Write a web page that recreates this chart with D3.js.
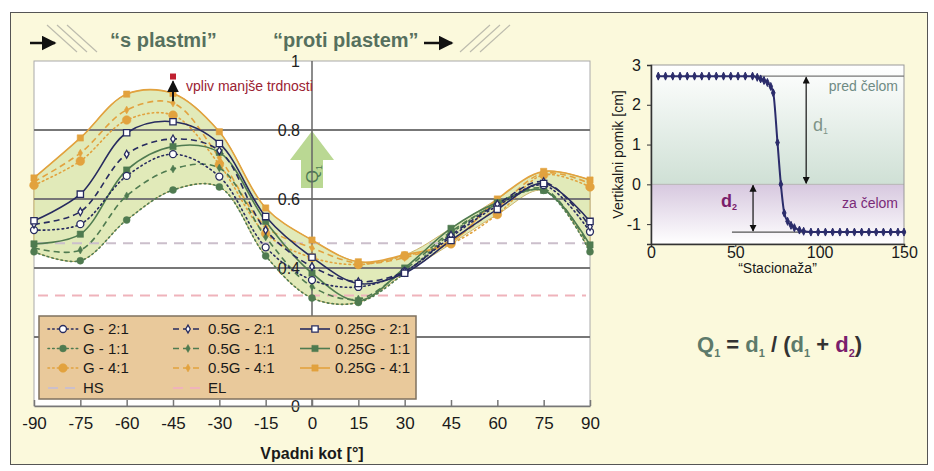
<!DOCTYPE html>
<html>
<head>
<meta charset="utf-8">
<script src="https://cdn.jsdelivr.net/npm/d3@7/dist/d3.min.js"></script>
<style>
  body { margin: 0; background: #fff; }
  svg { display: block; font-family: Arial, "Liberation Sans", sans-serif; }
</style>
</head>
<body>
<script>
'use strict';

// ---- data: left chart (Q1 vs dip angle) ----
var angles = [-90, -75, -60, -45, -30, -15, 0, 15, 30, 45, 60, 75, 90];
var seriesNames = ['G - 2:1', '0.5G - 2:1', '0.25G - 2:1',
                   'G - 1:1', '0.5G - 1:1', '0.25G - 1:1',
                   'G - 4:1', '0.5G - 4:1', '0.25G - 4:1'];
var valsG21   = [0.51, 0.527, 0.667, 0.73, 0.665, 0.46, 0.365, 0.345, 0.39, 0.49, 0.58, 0.64, 0.505];
var vals05G21 = [0.527, 0.563, 0.73, 0.774, 0.74, 0.51, 0.404, 0.36, 0.39, 0.495, 0.585, 0.65, 0.52];
var vals25G21 = [0.537, 0.614, 0.792, 0.824, 0.761, 0.549, 0.431, 0.355, 0.385, 0.48, 0.57, 0.645, 0.535];
var valsG11   = [0.447, 0.421, 0.539, 0.626, 0.635, 0.435, 0.313, 0.30, 0.385, 0.50, 0.585, 0.625, 0.447];
var vals05G11 = [0.458, 0.452, 0.609, 0.687, 0.69, 0.49, 0.346, 0.31, 0.395, 0.505, 0.585, 0.63, 0.458];
var vals25G11 = [0.47, 0.498, 0.684, 0.752, 0.735, 0.535, 0.385, 0.305, 0.40, 0.515, 0.59, 0.625, 0.467];
var valsG41   = [0.64, 0.71, 0.829, 0.843, 0.70, 0.50, 0.43, 0.41, 0.435, 0.47, 0.555, 0.67, 0.635];
var vals05G41 = [0.65, 0.733, 0.858, 0.878, 0.72, 0.52, 0.458, 0.414, 0.43, 0.48, 0.575, 0.675, 0.645];
var vals25G41 = [0.661, 0.777, 0.904, 0.906, 0.795, 0.574, 0.481, 0.418, 0.438, 0.475, 0.60, 0.68, 0.655];
var seriesValues = [valsG21, vals05G21, vals25G21, valsG11, vals05G11, vals25G11, valsG41, vals05G41, vals25G41];
var hsLevel = 0.472;
var elLevel = 0.32;
var yTicks = [0, 0.2, 0.4, 0.6, 0.8, 1];
var redAngle = -45, redQ = 0.955;

// ---- data: right chart (vertical displacement) ----
var statX = [4.3, 8.6, 12.9, 17.2, 21.5, 25.8, 30.1, 34.4, 38.7, 43, 47.3, 51.6, 55.9, 60.2,
             63, 65, 67, 69, 71, 72.5, 75, 77, 79, 81, 83, 85, 88, 90.5,
             94.8, 99.1, 103.4, 107.7, 112, 116.3, 120.6, 124.9, 129.2, 133.5, 137.8, 142.1, 146.4, 150];
var statY = [2.72, 2.72, 2.72, 2.72, 2.72, 2.72, 2.72, 2.72, 2.72, 2.72, 2.72, 2.72, 2.72, 2.72,
             2.69, 2.65, 2.61, 2.56, 2.46, 2.3, 1.05, 0, -0.72, -0.93, -1.03, -1.09, -1.15, -1.18,
             -1.2, -1.2, -1.2, -1.2, -1.2, -1.2, -1.2, -1.2, -1.2, -1.2, -1.2, -1.2, -1.2, -1.2];
var d1Top = 2.72, d2Bottom = -1.2;
var rTicksX = [0, 50, 100, 150];
var rTicksY = [-1, 0, 1, 2, 3];

var W = 934, H = 471;
var svg = d3.select('body').append('svg').attr('width', W).attr('height', H);
var plain = function (d) { return String(d); };

var defs = svg.append('defs');
defs.append('marker').attr('id', 'ah').attr('viewBox', '0 0 10 10')
  .attr('refX', 9).attr('refY', 5).attr('markerWidth', 6).attr('markerHeight', 6)
  .attr('orient', 'auto-start-reverse')
  .append('path').attr('d', 'M0,0L10,5L0,10z').attr('fill', '#111');

// outer frame
svg.append('rect').attr('x', 10.5).attr('y', 12.5).attr('width', 917).attr('height', 452)
  .attr('fill', '#fbf9dc').attr('stroke', '#555');

// ---- header ----
var hdr = svg.append('g');
hdr.append('line').attr('x1', 30).attr('y1', 43).attr('x2', 55).attr('y2', 43)
  .attr('stroke', '#111').attr('stroke-width', 2.5).attr('marker-end', 'url(#ah)');
[0, 10, 20].forEach(function (o) {
  hdr.append('line').attr('x1', 47 + o).attr('y1', 25).attr('x2', 77 + o).attr('y2', 52)
    .attr('stroke', '#bdbcae').attr('stroke-width', 1.2);
  hdr.append('line').attr('x1', 460 + o).attr('y1', 52).attr('x2', 490 + o).attr('y2', 25)
    .attr('stroke', '#bdbcae').attr('stroke-width', 1.2);
});
hdr.append('text').attr('x', 110).attr('y', 47).text('\u201cs plastmi\u201d')
  .attr('font-size', 20).attr('font-weight', 'bold').attr('fill', '#56705e');
hdr.append('text').attr('x', 273).attr('y', 47).text('\u201cproti plastem\u201d')
  .attr('font-size', 20).attr('font-weight', 'bold').attr('fill', '#56705e');
hdr.append('line').attr('x1', 424).attr('y1', 43).attr('x2', 452).attr('y2', 43)
  .attr('stroke', '#111').attr('stroke-width', 2.5).attr('marker-end', 'url(#ah)');

// ---- left chart ----
var x = d3.scaleLinear().domain([-90, 90]).range([34, 590]);
var y = d3.scaleLinear().domain([0, 1]).range([406, 61]);

svg.append('rect').attr('x', x(-90)).attr('y', y(1))
  .attr('width', x(90) - x(-90)).attr('height', y(0) - y(1))
  .attr('fill', '#fff').attr('stroke', '#aaa');

var env = angles.map(function (a, i) {
  return {
    a: a,
    lo: d3.min(seriesValues, function (s) { return s[i]; }),
    hi: d3.max(seriesValues, function (s) { return s[i]; })
  };
});
svg.append('path').datum(env)
  .attr('d', d3.area().x(function (d) { return x(d.a); })
    .y0(function (d) { return y(d.lo); }).y1(function (d) { return y(d.hi); })
    .curve(d3.curveCatmullRom))
  .attr('fill', '#e1eab9').attr('stroke', '#cdb56c').attr('stroke-width', 1);

svg.append('g').selectAll('line').data(yTicks.filter(function (t) { return t > 0 && t < 1; }))
  .enter().append('line')
  .attr('x1', x(-90)).attr('x2', x(90))
  .attr('y1', function (d) { return y(d); }).attr('y2', function (d) { return y(d); })
  .attr('stroke', '#777').attr('stroke-width', 1.8);

svg.append('line').attr('x1', x(-90) + 4).attr('x2', x(90) - 4)
  .attr('y1', y(hsLevel)).attr('y2', y(hsLevel))
  .attr('stroke', '#cbbfcb').attr('stroke-width', 2).attr('stroke-dasharray', '10,7');
svg.append('line').attr('x1', x(-90) + 4).attr('x2', x(90) - 4)
  .attr('y1', y(elLevel)).attr('y2', y(elLevel))
  .attr('stroke', '#efb3bb').attr('stroke-width', 2).attr('stroke-dasharray', '10,7');

// Q1 arrow
var ax = x(0);
svg.append('path')
  .attr('d', 'M' + ax + ',' + y(0.797) +
    'L' + (ax + 22) + ',' + y(0.713) + 'L' + (ax + 11) + ',' + y(0.713) +
    'L' + (ax + 11) + ',' + y(0.632) + 'L' + (ax - 11) + ',' + y(0.632) +
    'L' + (ax - 11) + ',' + y(0.713) + 'L' + (ax - 22) + ',' + y(0.713) + 'Z')
  .attr('fill', '#bad893');
var qt = svg.append('text').attr('transform', 'translate(' + (ax + 6) + ',' + y(0.672) + ') rotate(-90)')
  .attr('text-anchor', 'middle').attr('font-size', 17).attr('fill', '#4f7a55');
qt.append('tspan').text('Q');
qt.append('tspan').text('1').attr('font-size', 9).attr('dy', 4);

// axes
svg.append('line').attr('x1', x(0)).attr('x2', x(0)).attr('y1', y(1)).attr('y2', y(0))
  .attr('stroke', '#666').attr('stroke-width', 1.5);
svg.append('g').selectAll('text').data(yTicks).enter().append('text')
  .attr('x', x(0) - 12).attr('y', function (d) { return y(d); }).attr('dy', '0.36em')
  .attr('text-anchor', 'end').attr('font-size', 16).attr('fill', '#222')
  .text(plain);

var xAxis = svg.append('g').attr('transform', 'translate(0,' + y(0) + ')')
  .call(d3.axisBottom(x).tickValues(angles).tickFormat(plain)
    .tickSizeInner(-6).tickSizeOuter(0).tickPadding(11));
xAxis.select('.domain').attr('stroke', '#777').attr('stroke-width', 1.5);
xAxis.selectAll('.tick line').attr('stroke', '#777').attr('stroke-width', 1.5);
xAxis.selectAll('.tick text').attr('font-size', 17).attr('fill', '#1a1a1a').attr('font-family', null);
svg.append('text').attr('x', x(0)).attr('y', 459).attr('text-anchor', 'middle')
  .attr('font-size', 16).attr('font-weight', 'bold').attr('fill', '#1a1a1a')
  .text('Vpadni kot [\u00b0]');

// series
function styleOf(name) {
  var ratio = name.split(' - ')[1];
  var kind = name.split(' - ')[0];
  var color = ratio === '2:1' ? '#272b5f' : (ratio === '1:1' ? '#4f7b50' : '#e2a23e');
  var dash = kind === 'G' ? '1.5,3.2' : (kind === '0.5G' ? '6,4' : null);
  var sym = kind === 'G' ? d3.symbolCircle : (kind === '0.5G' ? d3.symbolDiamond : d3.symbolSquare);
  var size = kind === 'G' ? (ratio === '4:1' ? 60 : 38) : (kind === '0.5G' ? 18 : 40);
  return { color: color, dash: dash, sym: sym, size: size, open: ratio === '2:1' };
}
var line = d3.line().x(function (d) { return x(d.a); }).y(function (d) { return y(d.v); })
  .curve(d3.curveCatmullRom);
var series = seriesNames.map(function (n, i) {
  return { name: n, st: styleOf(n), pts: angles.map(function (a, j) { return { a: a, v: seriesValues[i][j] }; }) };
});
var drawOrder = [6, 7, 8, 3, 4, 5, 0, 1, 2];
drawOrder.forEach(function (i) {
  var s = series[i];
  svg.append('path').datum(s.pts).attr('d', line).attr('fill', 'none')
    .attr('stroke', s.st.color).attr('stroke-width', 1.6)
    .attr('stroke-dasharray', s.st.dash).attr('stroke-linecap', s.st.dash === '1.5,3.2' ? 'round' : 'butt');
});
drawOrder.forEach(function (i) {
  var s = series[i];
  svg.append('g').selectAll('path').data(s.pts).enter().append('path')
    .attr('transform', function (d) { return 'translate(' + x(d.a) + ',' + y(d.v) + ')'; })
    .attr('d', d3.symbol().type(s.st.sym).size(s.st.size))
    .attr('fill', s.st.open ? '#fff' : s.st.color)
    .attr('stroke', s.st.color).attr('stroke-width', s.st.open ? 1.3 : 0.5);
});

// annotation
svg.append('rect').attr('x', x(redAngle) - 3).attr('y', y(redQ) - 3).attr('width', 6).attr('height', 6)
  .attr('fill', '#c02030');
svg.append('line').attr('x1', x(redAngle)).attr('x2', x(redAngle))
  .attr('y1', y(valsG41[3]) - 14).attr('y2', y(redQ) + 5)
  .attr('stroke', '#111').attr('stroke-width', 2).attr('marker-end', 'url(#ah)');
svg.append('text').attr('x', x(redAngle) + 13).attr('y', y(redQ) + 14)
  .attr('font-size', 14).attr('fill', '#9b2232').text('vpliv manj\u0161e trdnosti');

// legend
var leg = svg.append('g');
leg.append('rect').attr('x', 39).attr('y', 316).attr('width', 377).attr('height', 83)
  .attr('fill', '#e9c99b').attr('stroke', '#7f715f').attr('stroke-width', 1.5);
var colX = [48, 173, 300];
var rowY = [329, 348.5, 368, 388];
series.forEach(function (s) {
  var rowIdx = s.name.indexOf('2:1') >= 0 ? 0 : (s.name.indexOf('1:1') >= 0 ? 1 : 2);
  var colIdx = s.name.indexOf('0.25G') === 0 ? 2 : (s.name.indexOf('0.5G') === 0 ? 1 : 0);
  var cx = colX[colIdx], cy = rowY[rowIdx];
  leg.append('line').attr('x1', cx).attr('x2', cx + 30).attr('y1', cy).attr('y2', cy)
    .attr('stroke', s.st.color).attr('stroke-width', 1.6).attr('stroke-dasharray', s.st.dash)
    .attr('stroke-linecap', s.st.dash === '1.5,3.2' ? 'round' : 'butt');
  leg.append('path').attr('transform', 'translate(' + (cx + 15) + ',' + cy + ')')
    .attr('d', d3.symbol().type(s.st.sym).size(s.st.size))
    .attr('fill', s.st.open ? '#fff' : s.st.color).attr('stroke', s.st.color)
    .attr('stroke-width', s.st.open ? 1.3 : 0.5);
  leg.append('text').attr('x', cx + 35).attr('y', cy).attr('dy', '0.36em')
    .attr('font-size', 15).attr('fill', '#1a1a1a').text(s.name);
});
[['HS', '#cbbfcb'], ['EL', '#efb3bb']].forEach(function (r, i) {
  var cx = colX[i], cy = rowY[3];
  leg.append('line').attr('x1', cx).attr('x2', cx + 30).attr('y1', cy).attr('y2', cy)
    .attr('stroke', r[1]).attr('stroke-width', 2).attr('stroke-dasharray', '10,7');
  leg.append('text').attr('x', cx + 35).attr('y', cy).attr('dy', '0.36em')
    .attr('font-size', 15).attr('fill', '#1a1a1a').text(r[0]);
});

// ---- right chart ----
var xs = d3.scaleLinear().domain([0, 150]).range([651, 904]);
var ys = d3.scaleLinear().domain([-1.5, 3]).range([244, 65]);

var gUp = defs.append('linearGradient').attr('id', 'gup').attr('x1', 0).attr('y1', 0).attr('x2', 0).attr('y2', 1);
gUp.append('stop').attr('offset', '0%').attr('stop-color', '#ffffff');
gUp.append('stop').attr('offset', '100%').attr('stop-color', '#cfe0d5');
var gDn = defs.append('linearGradient').attr('id', 'gdn').attr('x1', 0).attr('y1', 0).attr('x2', 0).attr('y2', 1);
gDn.append('stop').attr('offset', '0%').attr('stop-color', '#d7c8df');
gDn.append('stop').attr('offset', '100%').attr('stop-color', '#ffffff');

svg.append('rect').attr('x', xs(0)).attr('y', ys(3)).attr('width', xs(150) - xs(0))
  .attr('height', ys(0) - ys(3)).attr('fill', 'url(#gup)');
svg.append('rect').attr('x', xs(0)).attr('y', ys(0)).attr('width', xs(150) - xs(0))
  .attr('height', ys(-1.5) - ys(0)).attr('fill', 'url(#gdn)');
svg.append('line').attr('x1', xs(0)).attr('x2', xs(150)).attr('y1', ys(0)).attr('y2', ys(0))
  .attr('stroke', '#b5b5b5');
svg.append('rect').attr('x', xs(0)).attr('y', ys(3)).attr('width', xs(150) - xs(0))
  .attr('height', ys(-1.5) - ys(3)).attr('fill', 'none').attr('stroke', '#999');

svg.append('line').attr('x1', xs(60.5)).attr('x2', xs(150)).attr('y1', ys(d1Top)).attr('y2', ys(d1Top))
  .attr('stroke', '#777').attr('stroke-width', 1.3);
svg.append('line').attr('x1', xs(48)).attr('x2', xs(150)).attr('y1', ys(d2Bottom)).attr('y2', ys(d2Bottom))
  .attr('stroke', '#555').attr('stroke-width', 1.3);

var rAx = svg.append('g').attr('transform', 'translate(0,' + ys(-1.5) + ')')
  .call(d3.axisBottom(xs).tickValues(rTicksX).tickFormat(plain).tickSize(3).tickPadding(0));
var rAy = svg.append('g').attr('transform', 'translate(' + xs(0) + ',0)')
  .call(d3.axisLeft(ys).tickValues(rTicksY).tickFormat(plain).tickSize(4).tickPadding(6));
[rAx, rAy].forEach(function (a) {
  a.select('.domain').attr('stroke', '#333').attr('stroke-width', 1.5);
  a.selectAll('.tick line').attr('stroke', '#333');
  a.selectAll('.tick text').attr('font-size', 16).attr('fill', '#1a1a1a').attr('font-family', null);
});
svg.append('text').attr('transform', 'translate(623,' + ys(0.75) + ') rotate(-90)')
  .attr('text-anchor', 'middle').attr('font-size', 14).attr('fill', '#1a1a1a')
  .text('Vertikalni pomik [cm]');
svg.append('text').attr('x', xs(75)).attr('y', 273).attr('text-anchor', 'middle')
  .attr('font-size', 14).attr('fill', '#1a1a1a').text('\u201cStaciona\u017ea\u201d');

var stat = statX.map(function (v, i) { return { s: v, d: statY[i] }; });
svg.append('path').datum(stat)
  .attr('d', d3.line().x(function (d) { return xs(d.s); }).y(function (d) { return ys(d.d); })
    .curve(d3.curveMonotoneX))
  .attr('fill', 'none').attr('stroke', '#2b2c6b').attr('stroke-width', 2);
svg.append('g').selectAll('path').data(stat).enter().append('path')
  .attr('transform', function (d) { return 'translate(' + xs(d.s) + ',' + ys(d.d) + ')'; })
  .attr('d', 'M0,-4L1.8,0L0,4L-1.8,0Z').attr('fill', '#2b2c6b').attr('stroke', '#2b2c6b');

// d1 / d2 arrows
svg.append('line').attr('x1', xs(92)).attr('x2', xs(92)).attr('y1', ys(d1Top) + 1).attr('y2', ys(0) - 1)
  .attr('stroke', '#111').attr('stroke-width', 1.2)
  .attr('marker-start', 'url(#ah)').attr('marker-end', 'url(#ah)');
svg.append('line').attr('x1', xs(60.5)).attr('x2', xs(60.5)).attr('y1', ys(0) + 1).attr('y2', ys(d2Bottom) - 1)
  .attr('stroke', '#111').attr('stroke-width', 1.2)
  .attr('marker-start', 'url(#ah)').attr('marker-end', 'url(#ah)');
var d1t = svg.append('text').attr('x', xs(96)).attr('y', ys(1.35)).attr('font-size', 18).attr('fill', '#7f9488');
d1t.append('tspan').text('d');
d1t.append('tspan').text('1').attr('font-size', 9).attr('dy', 3);
var d2t = svg.append('text').attr('x', xs(51)).attr('y', ys(-0.58)).attr('text-anchor', 'end')
  .attr('font-size', 18).attr('font-weight', 'bold').attr('fill', '#7a1e6c');
d2t.append('tspan').text('d');
d2t.append('tspan').text('2').attr('font-size', 9).attr('dy', 3);
svg.append('text').attr('x', 898).attr('y', 91).attr('text-anchor', 'end')
  .attr('font-size', 14).attr('fill', '#6f8b84').text('pred \u010delom');
svg.append('text').attr('x', 898).attr('y', 208).attr('text-anchor', 'end')
  .attr('font-size', 14).attr('fill', '#7a2a78').text('za \u010delom');

// formula
var fm = svg.append('text').attr('x', 697).attr('y', 352).attr('font-size', 22).attr('font-weight', 'bold');
[['Q', '#5d7a6a', 0], ['1', '#5d7a6a', 1], [' = ', '#333', 0], ['d', '#5d7a6a', 0], ['1', '#5d7a6a', 1],
 [' / (', '#333', 0], ['d', '#5d7a6a', 0], ['1', '#5d7a6a', 1], [' + ', '#333', 0],
 ['d', '#7a1e6c', 0], ['2', '#7a1e6c', 1], [')', '#333', 0]].forEach(function (p, i, arr) {
  var prevSub = i > 0 && arr[i - 1][2] === 1;
  var t = fm.append('tspan').text(p[0]).attr('fill', p[1]);
  if (p[2] === 1) t.attr('font-size', 11).attr('dy', 5);
  else if (prevSub) t.attr('dy', -5);
});
</script>
</body>
</html>
